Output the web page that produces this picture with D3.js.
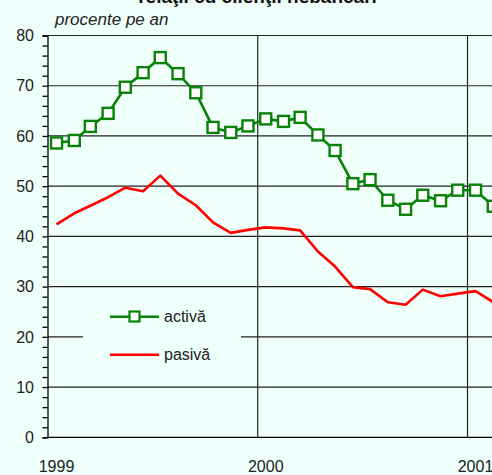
<!DOCTYPE html>
<html>
<head>
<meta charset="utf-8">
<script src="https://cdn.jsdelivr.net/npm/d3@7"></script>
<style>
  html, body { margin: 0; padding: 0; background: #effffa; }
  svg { display: block; font-family: "Liberation Sans", Arial, Helvetica, sans-serif; }
</style>
</head>
<body>
<div id="chart"></div>
<script>
// monthly data, Jan 1999 .. Feb 2001
var months = ["1999-01","1999-02","1999-03","1999-04","1999-05","1999-06","1999-07","1999-08","1999-09","1999-10","1999-11","1999-12",
              "2000-01","2000-02","2000-03","2000-04","2000-05","2000-06","2000-07","2000-08","2000-09","2000-10","2000-11","2000-12",
              "2001-01","2001-02"];
var activa = [58.6, 59.1, 61.9, 64.5, 69.7, 72.6, 75.6, 72.4, 68.6, 61.7, 60.7, 62.0,
              63.4, 62.9, 63.7, 60.2, 57.1, 50.5, 51.3, 47.2, 45.4, 48.2, 47.1, 49.2,
              49.2, 46.0];
var pasiva = [42.4, 44.6, 46.1, 47.8, 49.7, 49.0, 52.1, 48.5, 46.2, 42.8, 40.7, 41.3,
              41.8, 41.6, 41.2, 37.0, 34.0, 29.9, 29.5, 26.9, 26.4, 29.4, 28.1, 28.6,
              29.1, 26.9];
var yearLabels = ["1999", "2000", "2001"];
var yTicks = [0, 10, 20, 30, 40, 50, 60, 70, 80];
var seriesNames = ["activă", "pasivă"];

var width = 492, height = 475;
var parse = d3.timeParse("%Y-%m-%d");

var x = d3.scaleTime()
  .domain([parse("1999-01-01"), parse("2001-01-01")])
  .range([48.5, 467.5]);
var y = d3.scaleLinear().domain([0, 80]).range([437.3, 35.5]);

var svg = d3.select("#chart").append("svg")
  .attr("width", width).attr("height", height);

svg.append("defs").append("clipPath").attr("id", "plotclip")
  .append("rect").attr("x", 47.5).attr("y", 0).attr("width", width - 47.5).attr("height", height);

// title (cut off at the top, as in the original) and unit
svg.append("text")
  .attr("x", 257.5).attr("y", 3)
  .attr("text-anchor", "middle")
  .style("font-size", "19px").style("font-weight", "bold").style("fill", "#111")
  .text("relaţii cu clienţii nebancari");

svg.append("text")
  .attr("x", 55).attr("y", 25)
  .style("font-size", "17px").style("font-style", "italic").style("fill", "#222")
  .text("procente pe an");

var grid = svg.append("g").attr("clip-path", "url(#plotclip)");

// horizontal grid lines
grid.selectAll("line.h")
  .data(yTicks.filter(function(d) { return d > 0; }))
  .enter().append("line")
  .attr("class", "h")
  .attr("x1", 47.5).attr("x2", width)
  .attr("y1", function(d) { return y(d); })
  .attr("y2", function(d) { return y(d); })
  .attr("stroke", "#222").attr("stroke-width", 1.2);

// vertical year lines
grid.selectAll("line.v")
  .data(yearLabels.slice(1))
  .enter().append("line")
  .attr("class", "v")
  .attr("x1", function(d) { return x(parse(d + "-01-01")); })
  .attr("x2", function(d) { return x(parse(d + "-01-01")); })
  .attr("y1", y(80)).attr("y2", y(0))
  .attr("stroke", "#222").attr("stroke-width", 1.2);

// y axis with ticks every 2 units
var yAxis = d3.axisLeft(y)
  .tickValues(d3.range(0, 81, 2))
  .tickSize(5)
  .tickFormat("");
var ya = svg.append("g").attr("transform", "translate(47.5,0)").call(yAxis);
ya.select(".domain").attr("stroke", "#000").attr("stroke-width", 1.3);
ya.selectAll(".tick line").attr("stroke", "#000").attr("stroke-width", 1.3);

svg.selectAll("text.ylab")
  .data(yTicks)
  .enter().append("text")
  .attr("class", "ylab")
  .attr("x", 34).attr("y", function(d) { return y(d); })
  .attr("dy", "0.36em")
  .attr("text-anchor", "end")
  .style("font-size", "16px").style("fill", "#222")
  .text(function(d) { return d; });

// bottom axis line
svg.append("line")
  .attr("x1", 47.5).attr("x2", width)
  .attr("y1", y(0)).attr("y2", y(0))
  .attr("stroke", "#000").attr("stroke-width", 1.3);

svg.selectAll("text.xlab")
  .data(yearLabels)
  .enter().append("text")
  .attr("class", "xlab")
  .attr("x", function(d) { return x(parse(d + "-01-15")); })
  .attr("y", 472)
  .attr("text-anchor", "middle")
  .style("font-size", "16px").style("fill", "#222")
  .text(function(d) { return d; });

// legend box hides the grid line under it
var lg = svg.append("g");
lg.append("rect")
  .attr("x", 83).attr("y", 300).attr("width", 158).attr("height", 72)
  .attr("fill", "#effffa");

// series
var dataA = months.map(function(m, i) { return { d: parse(m + "-15"), v: activa[i] }; });
var dataP = months.map(function(m, i) { return { d: parse(m + "-15"), v: pasiva[i] }; });

var line = d3.line()
  .x(function(d) { return x(d.d); })
  .y(function(d) { return y(d.v); });

var plot = svg.append("g").attr("clip-path", "url(#plotclip)");

plot.append("path").datum(dataP)
  .attr("d", line)
  .attr("fill", "none").attr("stroke", "#ff0000").attr("stroke-width", 2.6)
  .attr("stroke-linejoin", "round");

plot.append("path").datum(dataA)
  .attr("d", line)
  .attr("fill", "none").attr("stroke", "#0a820a").attr("stroke-width", 2.6);

plot.selectAll("rect.mk")
  .data(dataA)
  .enter().append("rect")
  .attr("class", "mk")
  .attr("x", function(d) { return x(d.d) - 5.5; })
  .attr("y", function(d) { return y(d.v) - 5.5; })
  .attr("width", 11).attr("height", 11)
  .attr("fill", "#fff").attr("stroke", "#0a820a").attr("stroke-width", 2.4);

// legend entries
lg.append("line")
  .attr("x1", 110).attr("x2", 159).attr("y1", 316.7).attr("y2", 316.7)
  .attr("stroke", "#0a820a").attr("stroke-width", 2.6);
lg.append("rect")
  .attr("x", 129.5).attr("y", 311.5).attr("width", 10).attr("height", 10)
  .attr("fill", "#fff").attr("stroke", "#0a820a").attr("stroke-width", 2.2);
lg.append("line")
  .attr("x1", 110).attr("x2", 159).attr("y1", 354.7).attr("y2", 354.7)
  .attr("stroke", "#ff0000").attr("stroke-width", 2.6);

lg.selectAll("text.leg")
  .data(seriesNames)
  .enter().append("text")
  .attr("class", "leg")
  .attr("x", 164)
  .attr("y", function(d, i) { return 316.7 + i * 38; })
  .attr("dy", "0.36em")
  .style("font-size", "16px").style("fill", "#222")
  .text(function(d) { return d; });
</script>
</body>
</html>
